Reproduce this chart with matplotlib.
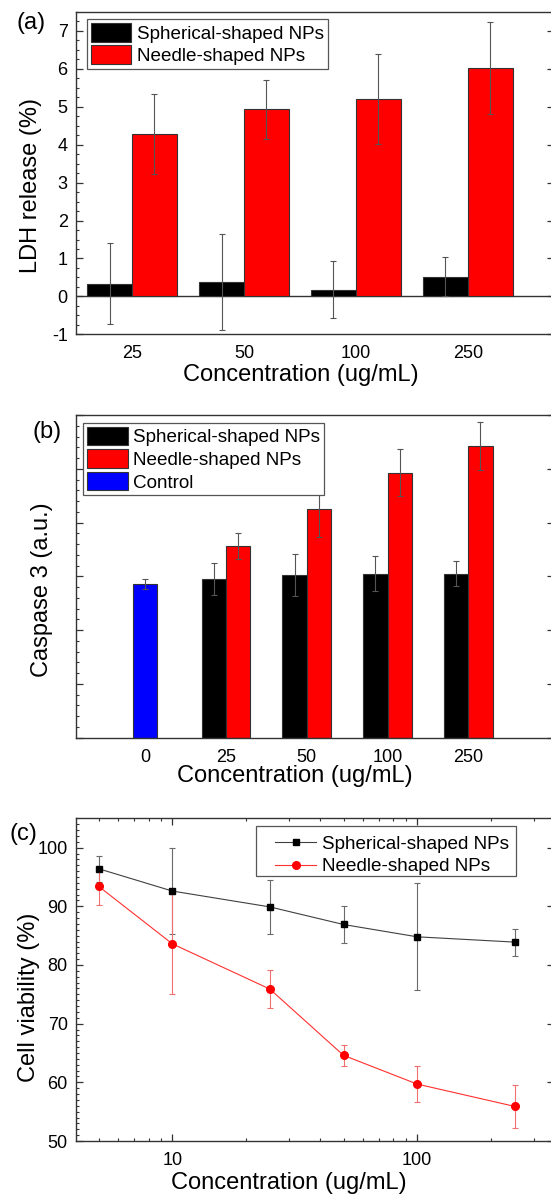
import matplotlib
matplotlib.use("Agg")

import matplotlib.pyplot as plt
import numpy as np
from matplotlib.patches import Rectangle
from matplotlib.ticker import MultipleLocator, NullFormatter, FuncFormatter, LogLocator

plt.rcParams['font.family'] = ['Liberation Sans', 'DejaVu Sans']
plt.rcParams['axes.unicode_minus'] = False

# (a) LDH release
ldh_conc = ['25', '50', '100', '250']
ldh_sph = [0.33, 0.38, 0.18, 0.52]
ldh_sph_err = [1.07, 1.26, 0.74, 0.51]
ldh_ndl = [4.28, 4.93, 5.20, 6.02]
ldh_ndl_err = [1.05, 0.77, 1.18, 1.21]

# (b) Caspase 3
casp_conc = ['0', '25', '50', '100', '250']
casp_ctrl = 2.86
casp_ctrl_err = 0.10
casp_sph = [2.95, 3.02, 3.05, 3.05]
casp_sph_err = [0.30, 0.39, 0.32, 0.23]
casp_ndl = [3.57, 4.25, 4.93, 5.42]
casp_ndl_err = [0.24, 0.52, 0.43, 0.45]

# (c) cell viability
via_conc = [5, 10, 25, 50, 100, 250]
via_sph = [96.4, 92.6, 89.9, 86.9, 84.8, 83.9]
via_sph_err = [2.2, 7.4, 4.6, 3.1, 9.1, 2.3]
via_ndl = [93.4, 83.6, 75.9, 64.6, 59.7, 55.9]
via_ndl_err = [3.1, 8.6, 3.2, 1.75, 3.0, 3.6]

labels = ['Spherical-shaped NPs', 'Needle-shaped NPs', 'Control']

W, H = 551, 1196
fig = plt.figure(figsize=(W / 100, H / 100), dpi=100)

def axes_px(left, top, right, bottom):
    return fig.add_axes([left / W, 1 - bottom / H, (right - left) / W, (bottom - top) / H])

spine_col = '#333333'
lab_fs = 17
tick_fs = 13
leg_fs = 13.6
R = 554  # right spine sits just outside the picture

def style(ax):
    for s in ax.spines.values():
        s.set_linewidth(1.0)
        s.set_color(spine_col)
    ax.tick_params(which='both', direction='in', colors=spine_col, labelcolor='black',
                   labelsize=tick_fs, pad=6)
    ax.tick_params(which='major', length=5, width=0.9)
    ax.tick_params(which='minor', length=2.5, width=0.8)

def legend(ax, loc, anchor, **kw):
    opts = dict(borderpad=0.2, handletextpad=0.3, labelspacing=0.15)
    opts.update(kw)
    leg = ax.legend(loc=loc, bbox_to_anchor=anchor, borderaxespad=0, fontsize=leg_fs,
                    fancybox=False, framealpha=1, edgecolor='#555555', **opts)
    leg.get_frame().set_linewidth(0.9)
    return leg

# ---- (a)
ax = axes_px(76, 12, R, 334.3)
style(ax)
x = np.arange(len(ldh_conc))
w = 0.4
ax.bar(x - w / 2, ldh_sph, w, color='black', edgecolor=spine_col, lw=0.8,
       label=labels[0], zorder=2)
ax.bar(x + w / 2, ldh_ndl, w, color='#ff0000', edgecolor=spine_col, lw=0.8,
       label=labels[1], zorder=2)
ax.errorbar(x - w / 2, ldh_sph, yerr=ldh_sph_err, fmt='none', ecolor='#555555',
            elinewidth=0.8, capsize=2.5, capthick=0.8, zorder=3)
ax.errorbar(x + w / 2, ldh_ndl, yerr=ldh_ndl_err, fmt='none', ecolor='#555555',
            elinewidth=0.8, capsize=2.5, capthick=0.8, zorder=3)
ax.axhline(0, color=spine_col, lw=1.0, zorder=1)
ax.set_xlim(-0.5, 3.77)
ax.set_ylim(-1, 7.5)
ax.set_xticks(x)
ax.set_xticklabels(ldh_conc)
ax.tick_params(axis='x', which='both', length=0, pad=8)
ax.yaxis.set_major_locator(MultipleLocator(1))
ax.yaxis.set_minor_locator(MultipleLocator(0.25))
ax.tick_params(axis='y', which='both', right=True)
ax.set_ylabel('LDH release (%)', fontsize=lab_fs)
ax.set_xlabel('Concentration (ug/mL)', fontsize=lab_fs)
ax.yaxis.set_label_coords(-0.071, 0.463)
ax.xaxis.set_label_coords(0.47, -0.092)
legend(ax, 'upper left', (0.023, 0.978), handlelength=2.15, handleheight=1.15)
fig.text(31 / W, 1 - 23 / H, '(a)', fontsize=lab_fs, ha='center', va='center')

# ---- (b)
ax = axes_px(76, 415, R, 737.7)
style(ax)
xb = np.arange(1, len(casp_conc))
wb = 0.3
ax.bar(xb - wb / 2, casp_sph, wb, color='black', edgecolor=spine_col, lw=0.8,
       label=labels[0], zorder=2)
ax.bar(xb + wb / 2, casp_ndl, wb, color='#ff0000', edgecolor=spine_col, lw=0.8,
       label=labels[1], zorder=2)
ax.bar([0], [casp_ctrl], wb, color='#0000ff', edgecolor=spine_col, lw=0.8,
       label=labels[2], zorder=2)
ax.errorbar(xb - wb / 2, casp_sph, yerr=casp_sph_err, fmt='none', ecolor='#555555',
            elinewidth=0.8, capsize=2.5, capthick=0.8, zorder=3)
ax.errorbar(xb + wb / 2, casp_ndl, yerr=casp_ndl_err, fmt='none', ecolor='#555555',
            elinewidth=0.8, capsize=2.5, capthick=0.8, zorder=3)
ax.errorbar([0], [casp_ctrl], yerr=[casp_ctrl_err], fmt='none', ecolor='#555555',
            elinewidth=0.8, capsize=2.5, capthick=0.8, zorder=3)
ax.set_xlim(-0.855, 5.06)
ax.set_ylim(0, 6)
ax.set_xticks(np.arange(len(casp_conc)))
ax.set_xticklabels(casp_conc)
ax.tick_params(axis='x', which='both', length=0, pad=8)
ax.yaxis.set_major_locator(MultipleLocator(1))
ax.yaxis.set_minor_locator(MultipleLocator(0.2))
ax.yaxis.set_major_formatter(NullFormatter())
ax.tick_params(axis='y', which='both', right=True)
ax.set_ylabel('Caspase 3 (a.u.)', fontsize=lab_fs)
ax.set_xlabel('Concentration (ug/mL)', fontsize=lab_fs)
ax.yaxis.set_label_coords(-0.048, 0.458)
ax.xaxis.set_label_coords(0.458, -0.085)
legend(ax, 'upper left', (0.015, 0.976), handlelength=2.15, handleheight=1.15)
fig.text(47 / W, 1 - 432 / H, '(b)', fontsize=lab_fs, ha='center', va='center')

# ---- (c)
ax = axes_px(76, 818.3, R, 1141)
style(ax)
eb_sph = ax.errorbar(via_conc, via_sph, yerr=via_sph_err, color='#404040', lw=0.8,
                     marker='s', ms=4.8, mfc='black', mec='black', ecolor='#6a6a6a',
                     elinewidth=0.8, capsize=2.5, capthick=0.8, zorder=3)
eb_ndl = ax.errorbar(via_conc, via_ndl, yerr=via_ndl_err, color='#ff3030', lw=0.8,
                     marker='o', ms=5.5, mfc='#ff0000', mec='#ff0000', ecolor='#f07070',
                     elinewidth=0.8, capsize=2.5, capthick=0.8, zorder=3)
ax.set_xscale('log')
ax.set_xlim(4.04, 362)
ax.set_ylim(50, 105)
ax.xaxis.set_major_locator(LogLocator(base=10))
ax.xaxis.set_major_formatter(FuncFormatter(lambda v, p: f'{v:g}'))
ax.xaxis.set_minor_formatter(NullFormatter())
ax.yaxis.set_major_locator(MultipleLocator(10))
ax.yaxis.set_minor_locator(MultipleLocator(1))
ax.tick_params(which='both', top=True, right=True)
ax.tick_params(axis='x', which='both', pad=8)
ax.set_ylabel('Cell viability (%)', fontsize=lab_fs)
ax.set_xlabel('Concentration (ug/mL)', fontsize=lab_fs)
ax.yaxis.set_label_coords(-0.076, 0.446)
ax.xaxis.set_label_coords(0.445, -0.096)
# the frame of this legend has a wider left margin, so draw it separately
ax.add_patch(Rectangle((0.3766, 0.8212), 0.5439, 0.1548, transform=ax.transAxes,
                       facecolor='white', edgecolor='#555555', lw=0.9, zorder=4))
leg = legend(ax, 'upper right', (0.913, 0.958), handles=[eb_sph[0], eb_ndl[0]],
             labels=labels[:2], handlelength=2.15, labelspacing=0.28, frameon=False)
leg.set_zorder(5)
fig.text(23 / W, 1 - 834 / H, '(c)', fontsize=lab_fs, ha='center', va='center')

fig.savefig('out.png', dpi=100)
